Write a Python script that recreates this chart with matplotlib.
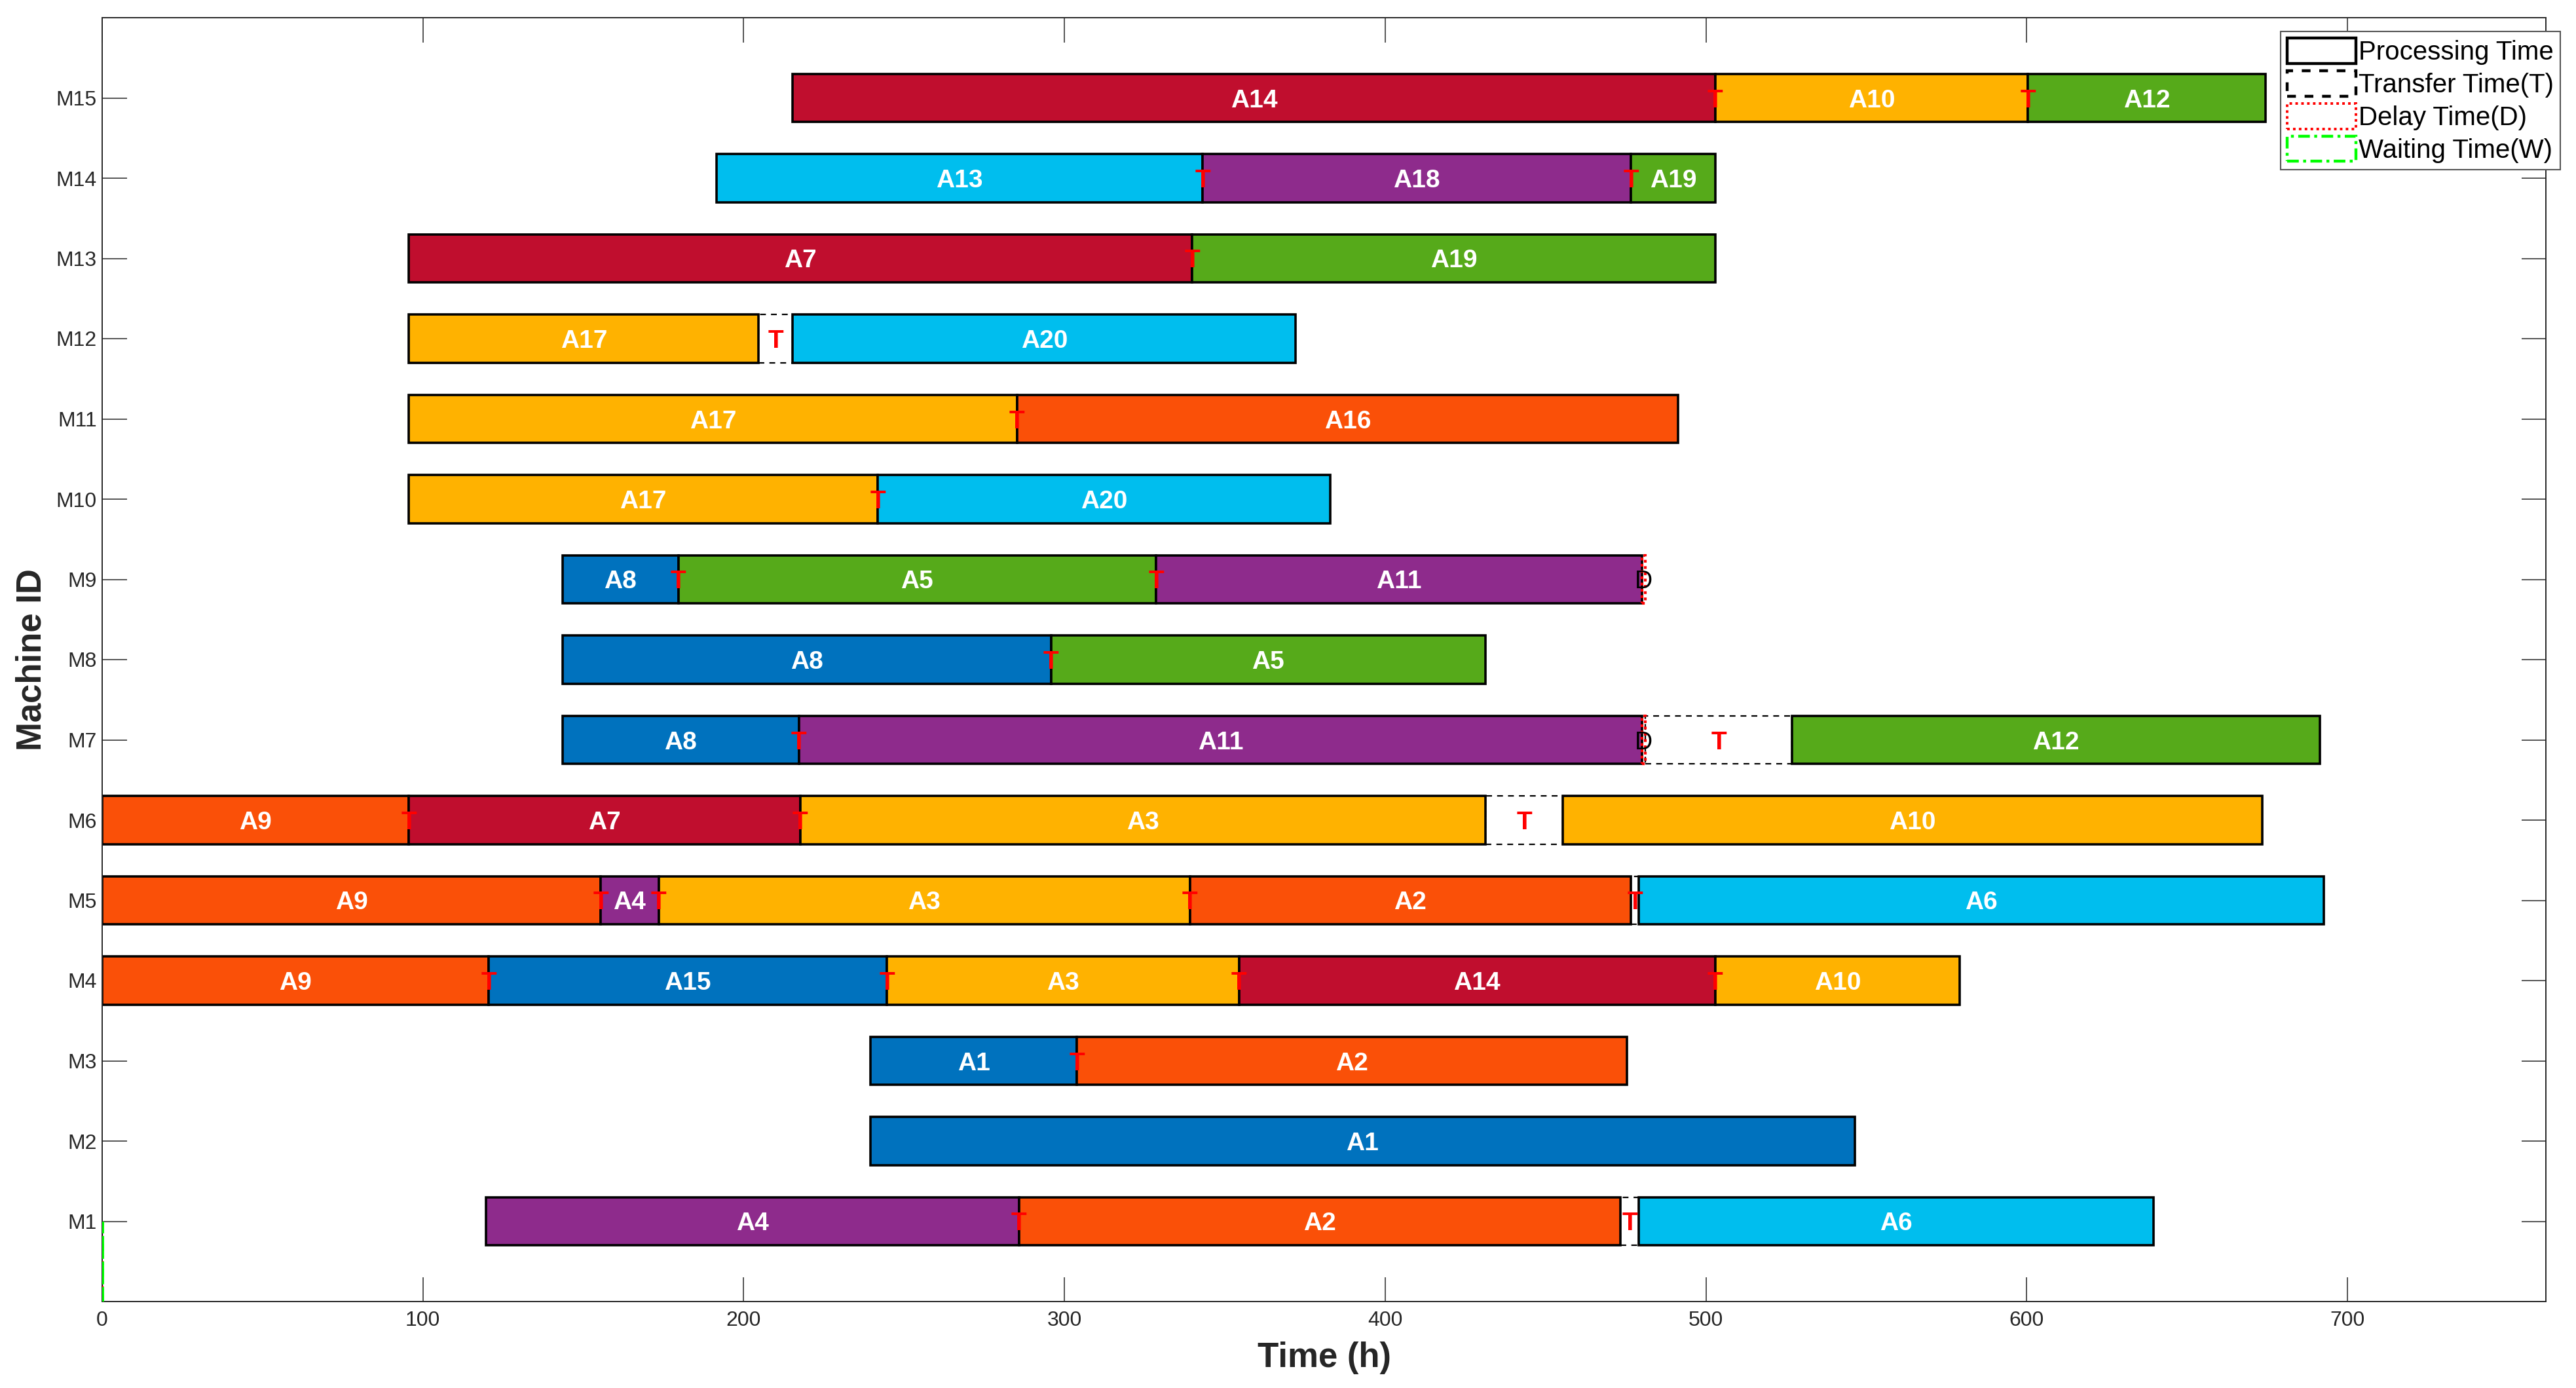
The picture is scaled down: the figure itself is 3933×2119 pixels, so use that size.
import matplotlib
matplotlib.use("Agg")
import matplotlib.pyplot as plt
from matplotlib.patches import Rectangle, Patch

plt.rcParams['font.family'] = ['Liberation Sans', 'DejaVu Sans']

# operations (machine, job, start, end) in hours
op_machine = [1, 1, 1,
              2,
              3, 3,
              4, 4, 4, 4, 4,
              5, 5, 5, 5, 5,
              6, 6, 6, 6,
              7, 7, 7,
              8, 8,
              9, 9, 9,
              10, 10,
              11, 11,
              12, 12,
              13, 13,
              14, 14, 14,
              15, 15, 15]
op_job = [4, 2, 6,
          1,
          1, 2,
          9, 15, 3, 14, 10,
          9, 4, 3, 2, 6,
          9, 7, 3, 10,
          8, 11, 12,
          8, 5,
          8, 5, 11,
          17, 20,
          17, 16,
          17, 20,
          7, 19,
          13, 18, 19,
          14, 10, 12]
op_start = [119.7, 285.8, 479.1,
            239.5,
            239.5, 303.9,
            0.0, 120.5, 244.7, 354.4, 502.9,
            0.0, 155.4, 173.5, 339.1, 479.1,
            0.0, 95.6, 217.6, 455.3,
            143.5, 217.2, 526.9,
            143.5, 295.8,
            143.5, 179.6, 328.6,
            95.6, 241.8,
            95.6, 285.2,
            95.6, 215.3,
            95.6, 339.8,
            191.5, 343.1, 476.6,
            215.3, 502.9, 600.4]
op_end = [285.8, 473.3, 639.6,
          546.4,
          303.9, 475.3,
          120.5, 244.7, 354.4, 502.9, 579.2,
          155.4, 173.5, 339.1, 476.6, 692.6,
          95.6, 217.6, 431.3, 673.4,
          217.2, 480.1, 691.4,
          295.8, 431.3,
          179.6, 328.6, 480.1,
          241.8, 382.9,
          285.2, 491.4,
          204.7, 372.1,
          339.8, 502.9,
          343.1, 476.6, 502.9,
          502.9, 600.4, 674.4]

# transfer times (machine, start, end)
tr_machine = [1, 1, 3, 4, 4, 4, 4, 5, 5, 5, 5, 6, 6, 6, 7, 7, 8, 9, 9, 10, 11, 12, 13, 14, 14, 15, 15]
tr_start = [285.8, 473.3, 303.9, 120.5, 244.7, 354.4, 502.9, 155.4, 173.5, 339.1, 476.6,
            95.6, 217.6, 431.3, 217.2, 481.0, 295.8, 179.6, 328.6, 241.8, 285.2, 204.7,
            339.8, 343.1, 476.6, 502.9, 600.4]
tr_end = [285.8, 479.1, 303.9, 120.5, 244.7, 354.4, 502.9, 155.4, 173.5, 339.1, 479.1,
          95.6, 217.6, 455.3, 217.2, 526.9, 295.8, 179.6, 328.6, 241.8, 285.2, 215.3,
          339.8, 343.1, 476.6, 502.9, 600.4]

# delay times
dl_machine = [7, 9]
dl_start = [480.1, 480.1]
dl_end = [481.0, 481.0]

machines = ['M%d' % i for i in range(1, 16)]
palette = ['#0072BE', '#FA5008', '#FFB200', '#8E2B8C', '#56AA1A', '#00BEEE', '#C00E2E']

fig = plt.figure(figsize=(39.33, 21.19), dpi=100)
ax = fig.add_axes([156 / 3933, 1 - 1987 / 2119, 3731 / 3933, 1960 / 2119])
h = 0.6

for m, j, s, e in zip(op_machine, op_job, op_start, op_end):
    ax.add_patch(Rectangle((s, m - h / 2), e - s, h, facecolor=palette[(j - 1) % 7],
                           edgecolor='black', linewidth=2.6, zorder=2))
    ax.text((s + e) / 2, m, 'A%d' % j, color='white', fontsize=28, fontweight='bold',
            ha='center', va='center_baseline', zorder=5)

for m, s, e in zip(tr_machine, tr_start, tr_end):
    ax.add_patch(Rectangle((s, m - h / 2), e - s, h, facecolor='none', edgecolor='black',
                           linewidth=1.6, linestyle=(0, (4, 3.5)), zorder=1.5))
    ax.text((s + e) / 2, m, 'T', color='red', fontsize=28, fontweight='bold',
            ha='center', va='center_baseline', zorder=4)

for m, s, e in zip(dl_machine, dl_start, dl_end):
    ax.add_patch(Rectangle((s, m - h / 2), e - s, h, facecolor='none', edgecolor='red',
                           linewidth=3, linestyle=(0, (1, 1.3)), zorder=4))
    ax.text((s + e) / 2, m, 'D', color='black', fontsize=27,
            ha='center', va='center_baseline', zorder=5)

# zero width markers at the origin (used for the legend)
ax.add_patch(Rectangle((0, 0), 0, 1, facecolor='none', edgecolor='black',
                       linewidth=1.6, linestyle=(0, (4, 3.5)), zorder=3))
ax.add_patch(Rectangle((0, 0), 0, 1, facecolor='none', edgecolor='red',
                       linewidth=3, linestyle=(0, (1, 1.3)), zorder=3))
ax.add_patch(Rectangle((0, 0), 0, 1, facecolor='none', edgecolor='#00FF00',
                       linewidth=3.5, linestyle=(0, (4, 1.5, 1, 1.5)), zorder=3))

ax.set_xlim(0, 1.1 * max(op_end))
ax.set_ylim(0, 16)
ax.set_yticks(range(1, 16))
ax.set_yticklabels(machines)
ax.set_xticks(range(0, 800, 100))

ax.tick_params(direction='in', length=27, width=1.1, top=True, right=True,
               labelsize=23, colors='#262626')
ax.tick_params(axis='x', pad=10)
ax.tick_params(axis='y', pad=6)
for sp in ax.spines.values():
    sp.set_color('#262626')
    sp.set_linewidth(1.4)

ax.set_xlabel('Time (h)', fontsize=38, fontweight='bold', color='#262626')
ax.set_ylabel('Machine ID', fontsize=38, fontweight='bold', color='#262626')
ax.xaxis.set_label_coords(0.5, -0.031)
ax.yaxis.set_label_coords(-0.022, 0.5)

handles = [Patch(facecolor='white', edgecolor='black', linewidth=3.2),
           Patch(facecolor='white', edgecolor='black', linewidth=3.2, linestyle=(0, (3, 3))),
           Patch(facecolor='white', edgecolor='red', linewidth=2.8, linestyle=(0, (1, 1.3))),
           Patch(facecolor='white', edgecolor='#00FF00', linewidth=3.2, linestyle=(0, (4, 1.5, 1, 1.5)))]
labels = ['Processing Time', 'Transfer Time(T)', 'Delay Time(D)', 'Waiting Time(W)']
leg = fig.legend(handles, labels, loc='upper right', bbox_to_anchor=(3909 / 3933, 1 - 48 / 2119),
                 fontsize=29, frameon=True, fancybox=False, framealpha=1, edgecolor='#555555',
                 handlelength=2.6, handleheight=1.1, handletextpad=0.1, labelspacing=0.22,
                 borderpad=0.25, borderaxespad=0)
leg.get_frame().set_linewidth(1.5)
leg.set_zorder(10)

fig.savefig('out.png', dpi=100, facecolor='white')
